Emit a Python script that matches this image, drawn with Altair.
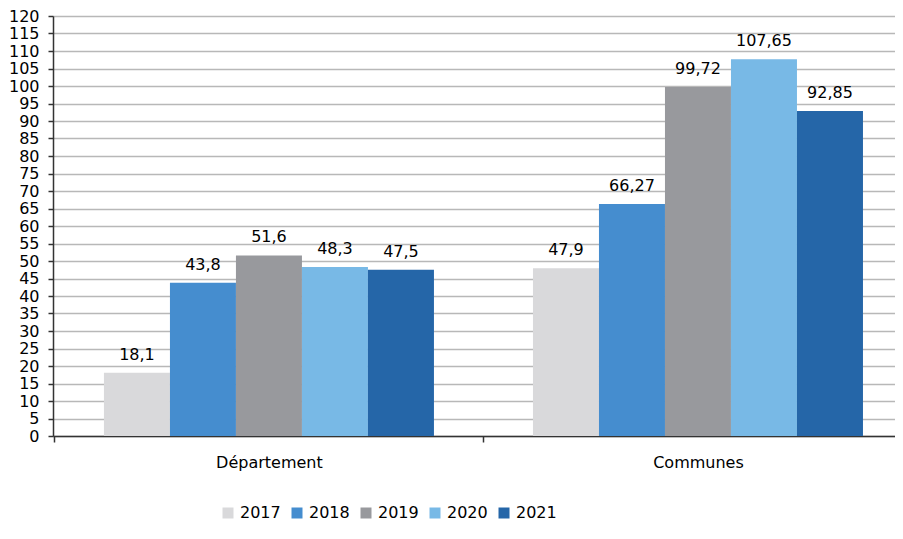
import altair as alt
import pandas as pd

categories = ["Département", "Communes"]
years = ["2017", "2018", "2019", "2020", "2021"]
departement = [18.1, 43.8, 51.6, 48.3, 47.5]
communes = [47.9, 66.27, 99.72, 107.65, 92.85]
colors = ["#d9d9db", "#458dcf", "#98999d", "#78b9e6", "#2566a8"]
y_ticks = list(range(0, 125, 5))

rows = []
for cat, vals in zip(categories, [departement, communes]):
    for yr, v in zip(years, vals):
        rows.append({"cat": cat, "year": yr, "value": v,
                     "label": f"{v:g}".replace(".", ",")})
df = pd.DataFrame(rows)

FONT = "DejaVu Sans"
FS = 16

x = alt.X("cat:N", sort=categories, title=None,
          scale=alt.Scale(paddingInner=0.2308, paddingOuter=0.0967, align=0.614),
          axis=alt.Axis(labelAngle=0, tickOffset=-215, labelOffset=215, tickSize=6,
                        tickColor="#333333", tickWidth=1.5, labelPadding=12,
                        domainColor="#333333", domainWidth=1.5, grid=False,
                        labelFontSize=FS, labelColor="#000000", labelFont=FONT))
xo = alt.XOffset("year:N", sort=years, scale=alt.Scale(paddingInner=0, paddingOuter=0))
y = alt.Y("value:Q", title=None,
          scale=alt.Scale(domain=[0, 120], nice=False),
          axis=alt.Axis(values=y_ticks, format="d", tickSize=5, tickColor="#333333",
                        tickWidth=1.5, labelPadding=9, domainColor="#333333",
                        domainWidth=1.5, gridColor="#b8b8b8", gridWidth=1.5,
                        labelFontSize=FS, labelColor="#000000", labelFont=FONT))

color = alt.Color("year:N", sort=years, title=None,
                  scale=alt.Scale(domain=years, range=colors),
                  legend=alt.Legend(orient="none", direction="horizontal",
                                    legendX=167, legendY=489, symbolType="square",
                                    symbolSize=121, symbolStrokeWidth=0,
                                    labelFontSize=FS, labelFont=FONT,
                                    labelColor="#000000", labelOffset=4,
                                    columnPadding=8))

bars = alt.Chart(df).mark_bar(strokeWidth=0).encode(x=x, xOffset=xo, y=y, color=color)
texts = alt.Chart(df).mark_text(baseline="alphabetic", dy=-13, fontSize=FS,
                                font=FONT, color="#000000").encode(
    x=x, xOffset=xo, y=y, text="label:N")

chart = alt.layer(bars, texts).properties(
    width=842, height=420,
    autosize=alt.AutoSizeParams(type="none"),
    padding={"left": 45, "top": 8, "right": 0, "bottom": 89},
).configure_view(stroke=None)

chart.save("out.html", embed_options={"renderer": "svg", "actions": False})
